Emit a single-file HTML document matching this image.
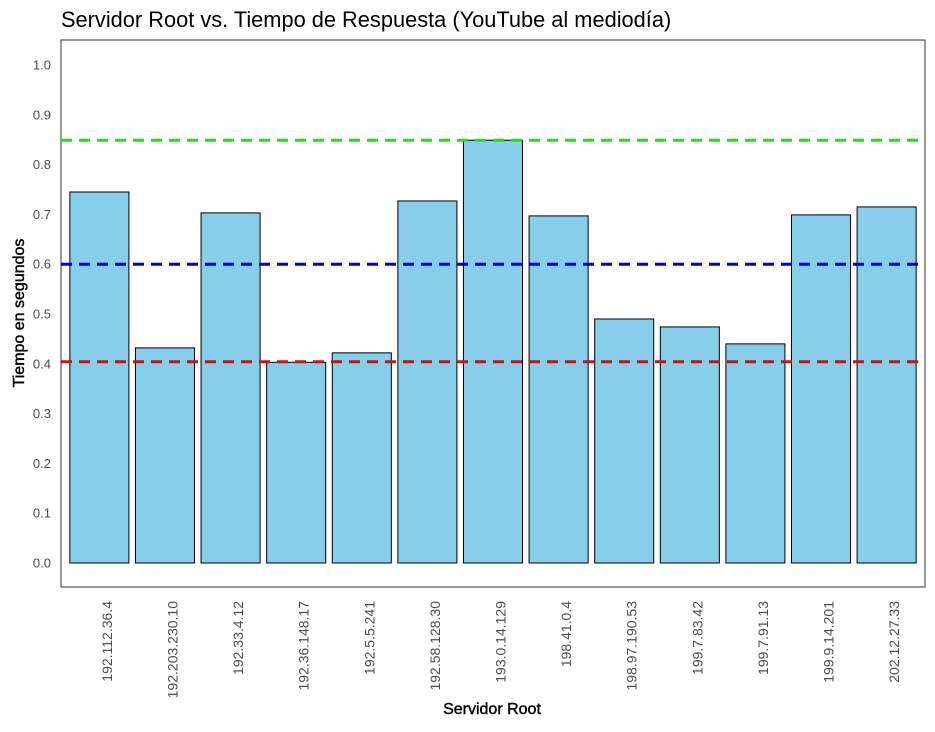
<!DOCTYPE html>
<html><head><meta charset="utf-8"><style>
body{margin:0;background:#fff;font-family:"Liberation Sans",Arial,sans-serif}
</style></head><body>
<svg width="935" height="727" font-family="Liberation Sans, Arial, sans-serif">
<rect width="935" height="727" fill="#fff"/>
<text x="61" y="27" font-size="21.8" fill="#000">Servidor Root vs. Tiempo de Respuesta (YouTube al mediodía)</text>
<rect x="61" y="40" width="864" height="547" fill="none" stroke="#333" stroke-width="1"/>
<g id="yt"></g>
<g id="bars"></g>
<g id="lines"></g>
<g id="xt"></g>
<text x="492" y="714" font-size="16" text-anchor="middle" fill="#000" stroke="#000" stroke-width="0.4">Servidor Root</text>
<text transform="translate(24,313) rotate(-90)" font-size="16" text-anchor="middle" fill="#000" stroke="#000" stroke-width="0.4">Tiempo en segundos</text>
</svg>
<script>
const categories=["192.112.36.4","192.203.230.10","192.33.4.12","192.36.148.17","192.5.5.241","192.58.128.30","193.0.14.129","198.41.0.4","198.97.190.53","199.7.83.42","199.7.91.13","199.9.14.201","202.12.27.33"];
const values=[0.745,0.432,0.703,0.403,0.422,0.727,0.849,0.697,0.49,0.474,0.44,0.699,0.715];
const yTicks=[0,0.1,0.2,0.3,0.4,0.5,0.6,0.7,0.8,0.9,1.0];
const refValues=[0.849,0.6,0.404];
const refColors=["#22dd22","#0000cc","#cc1111"];
const NS="http://www.w3.org/2000/svg";
const y=v=>563-v*498;
const step=864/(categories.length+0.17);
const x=i=>61+step*(0.585+i);
function mk(t,a,p){const e=document.createElementNS(NS,t);for(const k in a)e.setAttribute(k,a[k]);p.appendChild(e);return e;}
const yt=document.getElementById('yt');
yTicks.forEach(v=>{
 const t=mk('text',{x:51,y:y(v)+4.5,'font-size':13,'text-anchor':'end',fill:'#4d4d4d'},yt);
 t.textContent=v.toFixed(1);
 
 
});
const bg=document.getElementById('bars');
values.forEach((v,i)=>{
 const w=step*0.9;
 const r=mk('rect',{x:x(i)-w/2,y:y(v),width:w,height:y(0)-y(v),fill:'#87ceeb',stroke:'#000','stroke-width':1},bg);
 
 
});
const lg=document.getElementById('lines');
refValues.forEach((v,i)=>{
 const l=mk('line',{x1:61,x2:925,y1:y(v),y2:y(v),stroke:refColors[i],'stroke-width':3,'stroke-dasharray':'11,7'},lg);
 
 
});
const xt=document.getElementById('xt');
categories.forEach((c,i)=>{
 const t=mk('text',{transform:`translate(${x(i)+12.5},601) rotate(-90)`,'font-size':14,'text-anchor':'end',fill:'#4d4d4d'},xt);
 t.textContent=c;
 
 
});
</script>
</body></html>
